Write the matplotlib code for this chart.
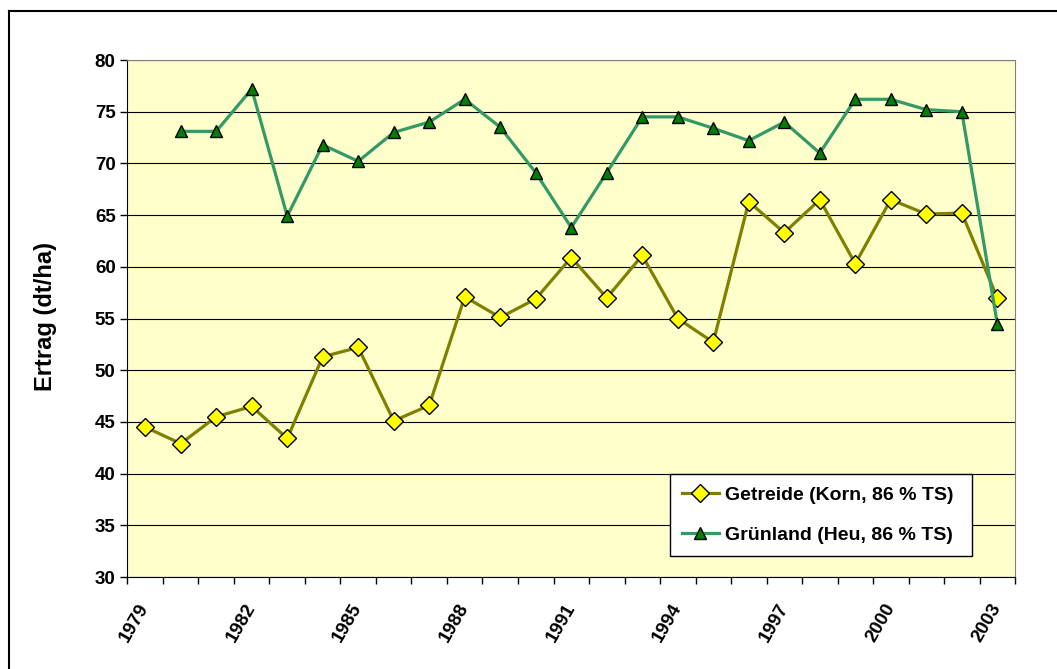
import matplotlib
matplotlib.use('Agg')
import matplotlib.pyplot as plt
from matplotlib.lines import Line2D
import numpy as np

plt.rcParams['font.family'] = ['Liberation Sans', 'DejaVu Sans']
plt.rcParams['font.weight'] = 'bold'

# Jahre 1979 - 2003
years = list(range(1979, 2004))
getreide = [44.5, 42.9, 45.5, 46.5, 43.4, 51.3, 52.2, 45.1, 46.6, 57.1,
            55.1, 56.9, 60.9, 57.0, 61.1, 55.0, 52.7, 66.3, 63.3, 66.5,
            60.3, 66.5, 65.1, 65.2, 57.0]
# Grünland erst ab 1980
gruenland = [np.nan, 73.1, 73.1, 77.2, 64.9, 71.8, 70.2, 73.0, 74.0, 76.2,
             73.5, 69.1, 63.8, 69.1, 74.5, 74.5, 73.4, 72.2, 74.0, 71.0,
             76.2, 76.2, 75.2, 75.0, 54.5]
label_years = years[::3]

fig = plt.figure(figsize=(10.57, 6.69), dpi=100)
ax = fig.add_axes([0.1206, 0.1375, 0.8397, 0.7728])
ax.set_facecolor('#FFFFCC')

x = np.arange(len(years))
ax.plot(x, getreide, color='#808000', lw=2.3, marker='D', ms=9,
        mfc='#FFFF00', mec='black', mew=1.0, label='Getreide (Korn, 86 % TS)', zorder=3)
ax.plot(x, gruenland, color='#339966', lw=2.3, marker='^', ms=9,
        mfc='#008000', mec='black', mew=1.0, label='Grünland (Heu, 86 % TS)', zorder=3)

ax.set_ylim(30, 80)
ax.set_yticks(range(30, 81, 5))
ax.set_xlim(-0.5, len(years) - 0.5)
ax.yaxis.grid(True, color='black', lw=0.8)
ax.set_axisbelow(True)

# Striche an den Kategoriegrenzen, Beschriftung in der Mitte
ax.set_xticks(np.arange(-0.5, len(years), 1))
ax.set_xticklabels([])
ax.set_xticks([years.index(y) for y in label_years], minor=True)
ax.set_xticklabels([str(y) for y in label_years], minor=True, rotation=60,
                   ha='right', va='center', rotation_mode='anchor', fontsize=13.5, fontweight='bold')
ax.tick_params(axis='x', which='major', length=5, width=1, direction='out')
ax.tick_params(axis='x', which='minor', length=0, pad=20)
ax.tick_params(axis='y', length=5, width=1, direction='out', labelsize=13.5)

for s in ['top', 'right']:
    ax.spines[s].set_color('#808080')
for s in ['left', 'bottom']:
    ax.spines[s].set_color('black')

ax.set_ylabel('Ertrag (dt/ha)', fontsize=17, fontweight='bold')
ax.yaxis.set_label_coords(-0.079, 0.503)

leg = ax.legend(loc='lower left', bbox_to_anchor=(0.611, 0.0406, 0.3405, 0.159),
                mode='expand', borderaxespad=0, fancybox=False, framealpha=1,
                edgecolor='black', prop={'size': 14, 'weight': 'bold'},
                handlelength=1.9, handletextpad=0.3, labelspacing=1.15, borderpad=0.62)
leg.get_frame().set_linewidth(1.0)

# Rahmen oben und links
fig.add_artist(Line2D([9 / 1057, 1], [1 - 10.5 / 669, 1 - 10.5 / 669], color='black', lw=1.5))
fig.add_artist(Line2D([9 / 1057, 9 / 1057], [0, 1 - 10.5 / 669], color='black', lw=1.5))

fig.savefig('out.png', dpi=100)
